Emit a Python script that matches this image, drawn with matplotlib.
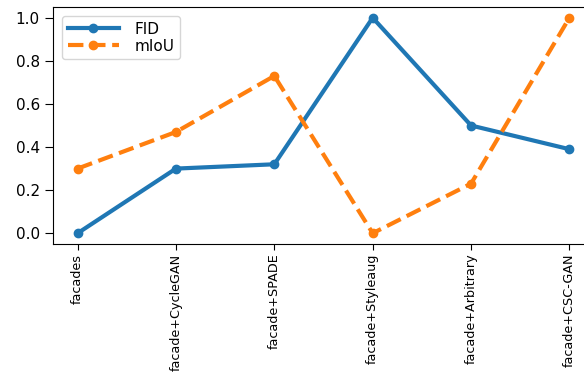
import matplotlib
matplotlib.use("Agg")
import matplotlib.pyplot as plt

methods = [
    "facades",
    "facade+CycleGAN",
    "facade+SPADE",
    "facade+Styleaug",
    "facade+Arbitrary",
    "facade+CSC-GAN",
]
fid = [0.0, 0.30, 0.32, 1.0, 0.50, 0.39]
miou = [0.30, 0.47, 0.73, 0.0, 0.23, 1.0]

fig = plt.figure(figsize=(5.84, 3.73), dpi=100)
# axes run slightly past the right edge of the canvas
ax = fig.add_axes([53 / 584, 129 / 373, 541 / 584, 237 / 373])

x = range(len(methods))
ax.plot(x, fid, "o-", color="#1f77b4", lw=3, ms=6, label="FID")
ax.plot(x, miou, "o--", color="#ff7f0e", lw=3, ms=6, label="mIoU")

ax.set_xlim(-0.25, 5.25)
ax.set_ylim(-0.05, 1.05)
ax.set_xticks(list(x))
ax.set_xticklabels(methods, rotation=90, fontsize=9.2)
ax.set_yticks([0.0, 0.2, 0.4, 0.6, 0.8, 1.0])
ax.set_yticklabels(["0.0", "0.2", "0.4", "0.6", "0.8", "1.0"], fontsize=11)
ax.tick_params(axis="y", length=5.5, pad=4)
ax.tick_params(axis="x", length=4, pad=3)

ax.legend(loc="upper left", fontsize=11, handlelength=3.4, handletextpad=1.0,
          labelspacing=0.15, borderpad=0.35, borderaxespad=0.6)

fig.savefig("out.png", dpi=100)
plt.close(fig)
